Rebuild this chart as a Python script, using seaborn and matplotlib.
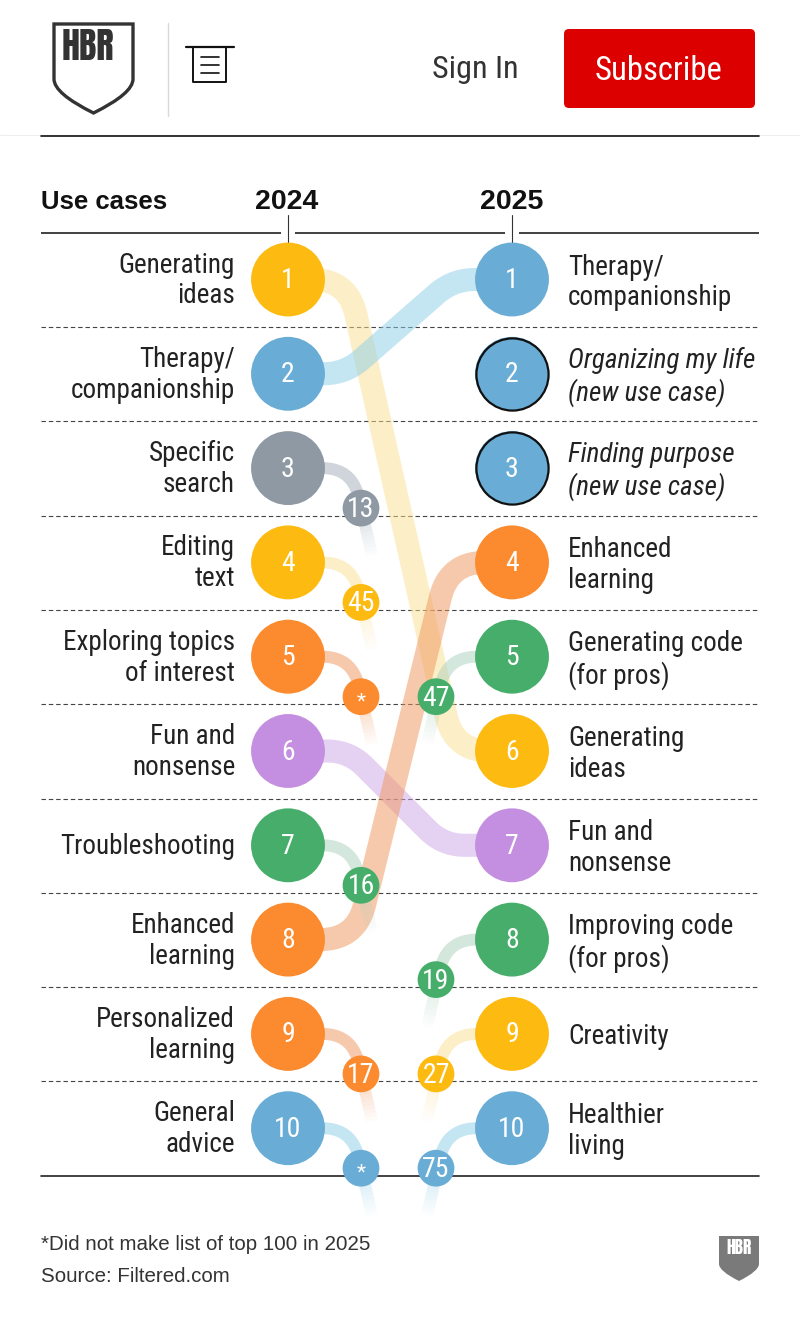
import matplotlib
matplotlib.use("Agg")
import matplotlib.font_manager as fm
import matplotlib.pyplot as plt
import numpy as np
import pandas as pd
import seaborn as sns
from matplotlib.collections import LineCollection
from matplotlib.patches import FancyBboxPatch, PathPatch
from matplotlib.path import Path

labels_2024 = ["Generating\nideas", "Therapy/\ncompanionship", "Specific\nsearch", "Editing\ntext",
               "Exploring topics\nof interest", "Fun and\nnonsense", "Troubleshooting", "Enhanced\nlearning",
               "Personalized\nlearning", "General\nadvice"]
labels_2025 = ["Therapy/\ncompanionship", "Organizing my life\n(new use case)", "Finding purpose\n(new use case)",
               "Enhanced\nlearning", "Generating code\n(for pros)", "Generating\nideas", "Fun and\nnonsense",
               "Improving code\n(for pros)", "Creativity", "Healthier\nliving"]
groups_2024 = ["yellow", "blue", "gray", "yellow", "orange", "purple", "green", "orange", "orange", "blue"]
groups_2025 = ["blue", "blue", "blue", "orange", "green", "yellow", "purple", "green", "yellow", "blue"]
new_2025 = [2, 3]

# (rank 2024, rank 2025, group) for cases in the top ten both years
moves = [(1, 6, "yellow"), (2, 1, "blue"), (6, 7, "purple"), (8, 4, "orange")]
# corner x positions and rounding of each move's ribbon
move_corners = [(348, 454, 36), (345, 453, 22), (349, 443, 22), (356, 449, 36)]

left_ranks = [3, 4, 5, 7, 9, 10]
left_new_rank = ["13", "45", "*", "16", "17", "*"]
right_ranks = [5, 8, 9, 10]
right_old_rank = ["47", "19", "27", "75"]

palette = {"yellow": "#FDBB11", "blue": "#69ADD6", "gray": "#8E99A4", "orange": "#FB8B2E",
           "purple": "#C48FE0", "green": "#46AE6A"}
ribbon = {"yellow": "#FBDF91", "blue": "#8BCDE7", "gray": "#A1ADB9", "orange": "#F0955A",
          "purple": "#CDA7E7", "green": "#ABD1BD"}

installed = {f.name for f in fm.fontManager.ttflist}
CANDIDATES = ["Roboto Condensed", "Archivo Narrow", "Liberation Sans Narrow", "Liberation Sans"]
NARROW = [n for n in CANDIDATES if n in installed]
LOGO = [n for n in ["Anton", "Oswald", "Roboto Condensed", "Liberation Sans"] if n in installed]
X24, X25 = 288, 512
BADGE_L, BADGE_R = 361, 436


def rank_y(rank):
    return 279.5 + (rank - 1) * 94.3


def rounded(points, radius):
    # polyline with its inner corners rounded off
    points = [np.array(p, float) for p in points]
    out = [points[0]]
    for prev, cur, nxt in zip(points[:-2], points[1:-1], points[2:]):
        a = cur + (prev - cur) / np.linalg.norm(prev - cur) * radius
        b = cur + (nxt - cur) / np.linalg.norm(nxt - cur) * radius
        for t in np.linspace(0, 1, 24):
            out.append((1 - t) ** 2 * a + 2 * t * (1 - t) * cur + t ** 2 * b)
    out.append(points[-1])
    return np.array(out)


def tail(ax, points, group, fade_from):
    # narrow ribbon that fades out towards the end
    xy = rounded(points, 30)
    color = matplotlib.colors.to_rgb(ribbon[group])
    solid = xy[xy[:, 1] <= fade_from]
    ax.plot(solid[:, 0], solid[:, 1], color=color, alpha=0.5, lw=8.6, solid_capstyle="butt", zorder=2)
    end = xy[-1]
    t = np.linspace(0, 1, 16)[:, None]
    fade = solid[-1] + (end - solid[-1]) * t
    segs = np.stack([fade[:-1], fade[1:]], axis=1)
    rgba = [(*color, 0.5 * (1 - i / 15)) for i in range(15)]
    ax.add_collection(LineCollection(segs, colors=rgba, linewidths=8.6, capstyle="butt", zorder=2))


def shield(ax, x0, x1, y0, y1, **kw):
    mid = (x0 + x1) / 2
    h = y1 - y0
    verts = [(x0, y0), (x1, y0), (x1, y0 + h * 0.62), (x1, y0 + h * 0.78), (mid, y1), (mid, y1),
             (x0, y0 + h * 0.78), (x0, y0 + h * 0.62), (x0, y0), (x0, y0)]
    codes = [Path.MOVETO, Path.LINETO, Path.LINETO, Path.CURVE3, Path.CURVE3, Path.LINETO, Path.CURVE3,
             Path.CURVE3, Path.LINETO, Path.CLOSEPOLY]
    ax.add_patch(PathPatch(Path(verts, codes), **kw))


def badge_label(ax, x, y, txt):
    # the asterisk sits high in its line box and is drawn smaller
    if txt == "*":
        ax.text(x, y + 5, txt, family=NARROW, fontsize=15, color="white", ha="center", va="center", zorder=7)
    else:
        ax.text(x, y + 1.5, txt, family=NARROW, fontsize=20, color="white", ha="center", va="center", zorder=7)


sns.set_theme(style="white")
plt.rcParams["font.family"] = ["Liberation Sans", "DejaVu Sans"]

fig = plt.figure(figsize=(8, 13.18), dpi=100)
ax = fig.add_axes([0, 0, 1, 1])
ax.set_xlim(0, 800)
ax.set_ylim(1318, 0)
ax.axis("off")

# site header
shield(ax, 54, 133, 24, 113, facecolor="white", edgecolor="#333333", lw=2.4, zorder=3)
ax.text(88, 46, "HBR", family=LOGO, fontsize=26, color="#333333", ha="center", va="center", zorder=4)
ax.plot([168, 168], [23, 116], color="#D9D9D9", lw=1)
ax.plot([186, 234], [47, 47], color="#111111", lw=1.6)
ax.plot([193, 193, 226, 226], [47, 82, 82, 47], color="#111111", lw=1.4)
for yy in (57, 65, 73):
    ax.plot([201, 219], [yy, yy], color="#111111", lw=1.2)
ax.text(475, 69, "Sign In", family=NARROW, fontsize=23, color="#333333", ha="center", va="center")
ax.add_patch(FancyBboxPatch((568, 33), 183, 71, boxstyle="round,pad=4,rounding_size=5", facecolor="#DD0000",
                            edgecolor="none"))
ax.text(659, 71, "Subscribe", family=NARROW, fontsize=23.5, color="white", ha="center", va="center")
ax.plot([0, 800], [135, 135], color="#EEEEEE", lw=0.8)
ax.plot([41, 759], [136, 136], color="#111111", lw=1.2)

# column header
ax.text(41, 202, "Use cases", fontsize=18.5, weight="bold", color="#111111", ha="left", va="center")
ax.text(X24 - 1, 202, "2024", fontsize=20.5, weight="bold", color="#111111", ha="center", va="center")
ax.text(X25, 202, "2025", fontsize=20.5, weight="bold", color="#111111", ha="center", va="center")
for x0, x1 in [(41, 281), (295, 505), (519, 759)]:
    ax.plot([x0, x1], [233, 233], color="#333333", lw=1.3, solid_capstyle="butt")
for x in (X24, X25):
    ax.plot([x, x], [215, 245], color="#333333", lw=0.8)

# row separators
for r in range(1, 10):
    y = rank_y(r) + 47.5
    ax.plot([41, 759], [y, y], color="#444444", lw=0.8, ls=(0, (4, 2.6)), zorder=1)
ax.plot([41, 759], [1175.5, 1175.5], color="#222222", lw=1.2, zorder=1)

# ribbons between the two years
for (r0, r1, group), (c0, c1, rad) in zip(moves, move_corners):
    y0, y1 = rank_y(r0), rank_y(r1)
    xy = rounded([(X24, y0), (c0, y0), (c1, y1), (X25, y1)], rad)
    ax.plot(xy[:, 0], xy[:, 1], color=ribbon[group], alpha=0.5, lw=16.6, solid_capstyle="butt", zorder=2)

for r in left_ranks:
    y = rank_y(r)
    tail(ax, [(X24, y), (352, y), (372, y + 87)], groups_2024[r - 1], y + 62)
for r in right_ranks:
    y = rank_y(r)
    tail(ax, [(X25, y), (447, y), (427, y + 87)], groups_2025[r - 1], y + 62)

# rank bubbles
bubbles = pd.DataFrame({
    "x": [X24] * 10 + [X25] * 10,
    "y": [rank_y(r) for r in range(1, 11)] * 2,
    "group": groups_2024 + groups_2025,
})
sns.scatterplot(data=bubbles, x="x", y="y", hue="group", palette=palette, s=2830, linewidth=0, legend=False,
                ax=ax, zorder=5)
fresh = bubbles.iloc[[10 + r - 1 for r in new_2025]]
sns.scatterplot(data=fresh, x="x", y="y", color=palette["blue"], s=2700, linewidth=1.6, edgecolor="#111111",
                legend=False, ax=ax, zorder=6)

# small off-list rank badges
left_df = pd.DataFrame({"x": BADGE_L, "y": [rank_y(r) + 40 for r in left_ranks],
                        "group": [groups_2024[r - 1] for r in left_ranks]})
right_df = pd.DataFrame({"x": BADGE_R, "y": [rank_y(r) + 40 for r in right_ranks],
                         "group": [groups_2025[r - 1] for r in right_ranks]})
badges = pd.concat([left_df, right_df])
sns.scatterplot(data=badges, x="x", y="y", hue="group", palette=palette, s=700, linewidth=0, legend=False,
                ax=ax, zorder=5)
ax.set_xlim(0, 800)
ax.set_ylim(1318, 0)
ax.set_xlabel("")
ax.set_ylabel("")

for r in range(1, 11):
    y = rank_y(r)
    ax.text(X24, y + 1, str(r), family=NARROW, fontsize=20, color="white", ha="center", va="center", zorder=7)
    ax.text(X25, y + 1, str(r), family=NARROW, fontsize=20, color="white", ha="center", va="center", zorder=7)
    ax.text(235, y + 1, labels_2024[r - 1], family=NARROW, fontsize=19.5, color="#222222", ha="right",
            va="center", linespacing=1.19)
    style = "italic" if r in new_2025 else "normal"
    ax.text(568, y + 3, labels_2025[r - 1], family=NARROW, fontsize=19.5, style=style, color="#222222", ha="left",
            va="center", linespacing=1.19)

for r, txt in zip(left_ranks, left_new_rank):
    badge_label(ax, BADGE_L, rank_y(r) + 40, txt)
for r, txt in zip(right_ranks, right_old_rank):
    badge_label(ax, BADGE_R, rank_y(r) + 40, txt)

# footer
ax.text(41, 1245, "*Did not make list of top 100 in 2025", fontsize=14.8, color="#333333", ha="left", va="center")
ax.text(41, 1277, "Source: Filtered.com", fontsize=14.8, color="#333333", ha="left", va="center")
shield(ax, 719, 759, 1236, 1281, facecolor="#7A7A7A", edgecolor="none", zorder=3)
ax.text(739, 1248, "HBR", family=LOGO, fontsize=12.5, color="white", ha="center", va="center", zorder=4)

fig.savefig("out.png", dpi=100)
